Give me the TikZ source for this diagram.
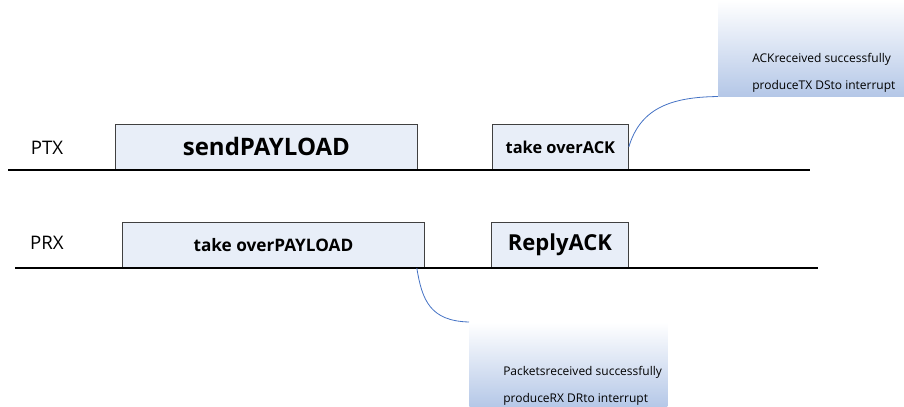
\documentclass[tikz,border=0pt]{standalone}
\usepackage{fontspec}
\setmainfont{Open Sans}
\usetikzlibrary{positioning}
\definecolor{boxfill}{RGB}{232,238,248}
\definecolor{noteblue}{RGB}{180,199,231}
\definecolor{wireblue}{RGB}{68,114,196}
\tikzset{x=0.75pt,y=-0.75pt,
         line/.style={line width=1.8pt,draw=black},
         stage/.style={draw=black!75,fill=boxfill,line width=0.6pt,inner sep=0pt,
                       minimum height=34pt,font=\bfseries},
         lane/.style={font=\fontsize{14}{16}\selectfont,inner sep=0pt},
         note/.style={inner sep=0pt,top color=white,bottom color=noteblue,draw=none},
         notetext/.style={align=left,inner sep=0pt,font=\fontsize{9}{20}\selectfont},
         wire/.style={draw=wireblue,line width=0.6pt}}

\begin{document}
\begin{tikzpicture}
      \useasboundingbox (0,0) rectangle (904,407);
      % PTX lane
      \node[lane] (ptx) at (47,148) {PTX};
      \coordinate (ptxa) at (8,170);
      \coordinate (ptxb) at (810,170);
      \node[stage,minimum width=226.5pt,anchor=south west,
            font=\bfseries\fontsize{18}{20}\selectfont] (send) at (115,170) {sendPAYLOAD};
      \node[stage,minimum width=102pt,anchor=south west,
            font=\bfseries\fontsize{12.3}{14}\selectfont] (ack) at (492,170) {take overACK};
      \draw[line] (ptxa) -- (ptxb);
      % PRX lane
      \node[lane] (prx) at (47,243) {PRX};
      \coordinate (prxa) at (15,268);
      \coordinate (prxb) at (818,268);
      \node[stage,minimum width=226.5pt,anchor=south west,
            font=\bfseries\fontsize{12.9}{14}\selectfont] (pld) at (122,268) {take overPAYLOAD};
      \node[stage,minimum width=102.75pt,anchor=south west,
            font=\bfseries\fontsize{16.5}{18}\selectfont] (reply) at (491,268) {ReplyACK};
      \draw[line] (prxa) -- (prxb);
      % notes
      \node[note,minimum width=139.5pt,minimum height=72pt,anchor=north west] (txnote) at (718,0) {};
      \node[notetext,anchor=north west] (txtext) at (752,53)
            {ACKreceived successfully\\produceTX DSto interrupt};
      \node[note,minimum width=148.5pt,minimum height=64pt,anchor=north west] (rxnote) at (469,322) {};
      \node[notetext,anchor=north west] (rxtext) at (503,366)
            {Packetsreceived successfully\\produceRX DRto interrupt};
      \draw[wire] (ack.east) .. controls (640,110) and (668,97) .. (txnote.south west);
      \draw[wire] ([xshift=-6pt]pld.south east) .. controls (422,300) and (430,321) .. (rxnote.north west);
\end{tikzpicture}
\end{document}
